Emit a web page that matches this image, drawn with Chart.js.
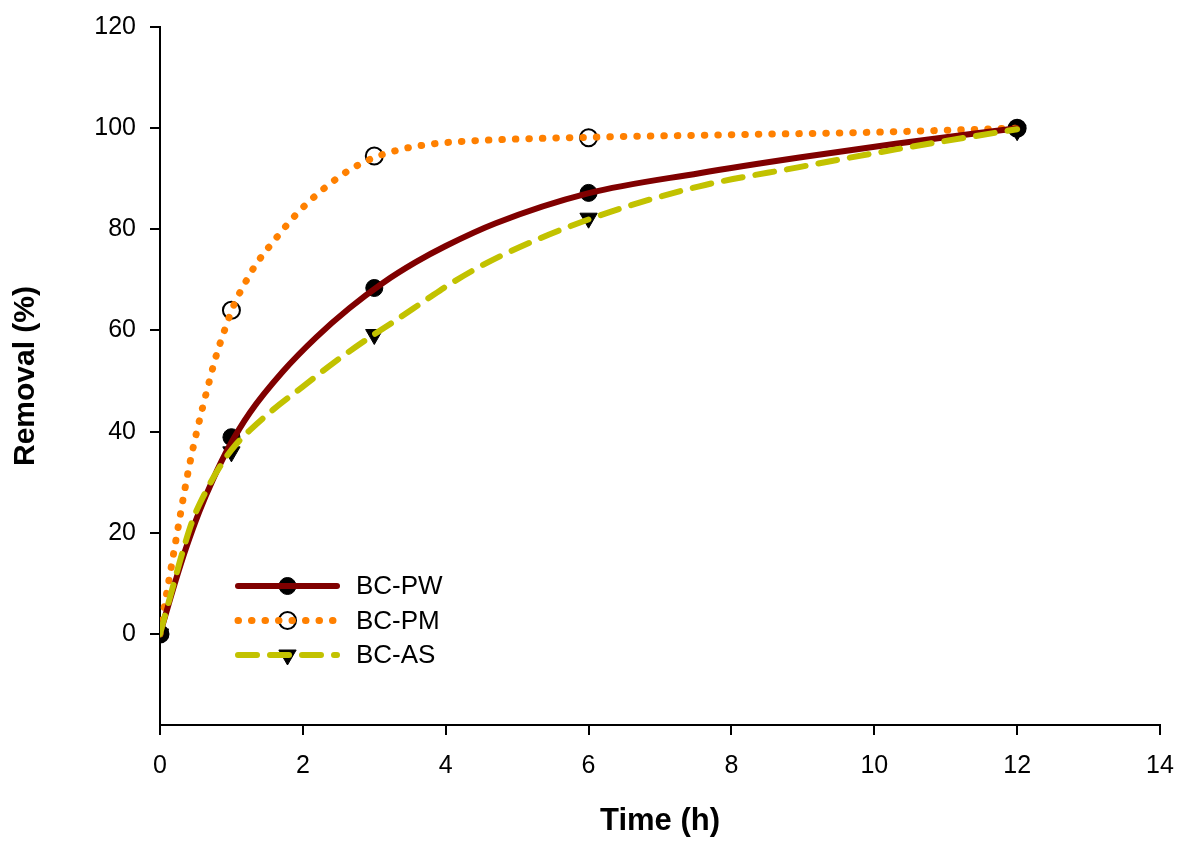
<!DOCTYPE html>
<html>
<head>
<meta charset="utf-8">
<title>Removal vs time</title>
<script src="https://cdn.jsdelivr.net/npm/chart.js@4.4.1/dist/chart.umd.min.js"></script>
<style>
  html, body { margin: 0; padding: 0; background: #ffffff; }
  canvas { display: block; }
</style>
</head>
<body>
<canvas id="removalChart" width="1178" height="844"></canvas>
<script>
// Series names
const seriesNames = ['BC-PW', 'BC-PM', 'BC-AS'];

// Measured removal (%) at each sampling time (h)
const sampleTimes = [0, 1, 3, 6, 12];
const removalPW = [0, 38.9, 68.4, 87.2, 100];
const removalPM = [0, 64.0, 94.5, 98.1, 100];
const removalAS = [0, 36.0, 59.2, 82.2, 99.5];

// Fitted kinetic curves (time h, removal %)
const fitTimePW = [0, 0.22, 0.36, 0.55, 0.74, 0.97, 1.26, 1.72, 2.19, 2.65, 3.12, 3.58, 4.0, 4.7, 5.99, 7.55, 8.95, 10.3, 12];
const fitRemovalPW = [0, 10.6, 16.8, 24.2, 30.5, 37.1, 43.8, 51.9, 58.7, 64.4, 69.4, 73.5, 76.7, 81.2, 87.1, 91.1, 94.2, 96.9, 100];

const fitTimePM = [0, 0.06, 0.13, 0.21, 0.28, 0.34, 0.42, 0.50, 0.59, 0.68, 0.78, 0.90, 1.04, 1.23, 1.34, 1.61, 1.93, 2.29, 2.66, 3.02, 3.4, 3.77, 4.14, 4.7, 6, 8, 10, 12];
const fitRemovalPM = [0, 5.3, 11.0, 17.5, 23.2, 28.0, 33.9, 39.1, 44.4, 49.4, 54.7, 59.9, 65.2, 70.4, 73.0, 78.0, 83.3, 88.0, 91.8, 94.3, 95.9, 96.8, 97.3, 97.7, 98.2, 98.7, 99.2, 100];

const fitTimeAS = [0, 0.18, 0.32, 0.46, 0.65, 0.88, 1.06, 1.26, 1.58, 2.0, 2.42, 2.89, 3.31, 3.73, 4.06, 4.75, 6.01, 7.55, 8.95, 10.3, 12];
const fitRemovalAS = [0, 9.3, 16.4, 22.6, 28.4, 34.0, 37.4, 40.3, 44.3, 48.9, 53.5, 58.2, 62.1, 66.1, 69.2, 74.6, 82.0, 88.5, 92.3, 95.8, 99.8];

// Axis tick values
const xTickValues = [0, 2, 4, 6, 8, 10, 12, 14];
const yTickValues = [0, 20, 40, 60, 80, 100, 120];

const FONT = "'Liberation Sans', Arial, Helvetica, sans-serif";
const pairs = (xs, ys) => xs.map((x, i) => ({ x: x, y: ys[i] }));

const colPW = '#800000';
const colPM = '#ff8000';
const colAS = '#c2c200';

const curveBase = {
  showLine: true,
  pointRadius: 0,
  pointHoverRadius: 0,
  borderWidth: 6,
  borderCapStyle: 'round',
  borderJoinStyle: 'round',
  fill: false,
  cubicInterpolationMode: 'monotone'
};

const datasets = [
  Object.assign({}, curveBase, {
    label: seriesNames[2], data: pairs(fitTimeAS, fitRemovalAS),
    borderColor: colAS, borderDash: [19, 13], order: 0
  }),
  Object.assign({}, curveBase, {
    label: seriesNames[0], data: pairs(fitTimePW, fitRemovalPW),
    borderColor: colPW, borderDash: [], order: 1
  }),
  Object.assign({}, curveBase, {
    label: seriesNames[1], data: pairs(fitTimePM, fitRemovalPM),
    borderColor: colPM, borderDash: [0.5, 13], borderWidth: 7, order: 2
  }),
  {
    label: seriesNames[0] + ' data', data: pairs(sampleTimes, removalPW),
    showLine: false, pointStyle: 'circle', pointRadius: 8.5, pointBorderWidth: 1,
    pointBackgroundColor: '#000', pointBorderColor: '#000', pointRotation: 0, order: 5
  },
  {
    label: seriesNames[1] + ' data', data: pairs(sampleTimes, removalPM),
    showLine: false, pointStyle: 'circle', pointRadius: 8.5, pointBorderWidth: 2,
    pointBackgroundColor: 'rgba(0,0,0,0)', pointBorderColor: '#000', pointRotation: 0, order: 5
  },
  {
    label: seriesNames[2] + ' data', data: pairs(sampleTimes, removalAS),
    showLine: false, pointStyle: 'triangle', pointRadius: 10, pointBorderWidth: 1,
    pointBackgroundColor: '#000', pointBorderColor: '#000', pointRotation: 180, order: 5
  }
];

// Key rows: fitted curve dataset index + marker dataset index
const keyRows = [
  { curve: 1, marker: 3, name: seriesNames[0] },
  { curve: 2, marker: 4, name: seriesNames[1] },
  { curve: 0, marker: 5, name: seriesNames[2] }
];

const seriesKey = {
  id: 'seriesKey',
  afterDatasetsDraw(chart) {
    const { ctx, chartArea } = chart;
    const x0 = chartArea.left + 78;
    const x1 = chartArea.left + 177;
    const xm = (x0 + x1) / 2;
    const textX = chartArea.left + 196;
    const y0 = chartArea.top + 559;
    const gap = 34.5;
    keyRows.forEach((row, i) => {
      const y = y0 + i * gap;
      const cd = chart.data.datasets[row.curve];
      const md = chart.data.datasets[row.marker];
      ctx.save();
      // marker
      ctx.fillStyle = md.pointBackgroundColor;
      ctx.strokeStyle = md.pointBorderColor;
      ctx.lineWidth = md.pointBorderWidth;
      Chart.helpers.drawPoint(ctx, {
        pointStyle: md.pointStyle, radius: md.pointRadius,
        rotation: md.pointRotation, borderWidth: md.pointBorderWidth
      }, xm, y);
      // line sample
      ctx.beginPath();
      ctx.strokeStyle = cd.borderColor;
      ctx.lineWidth = cd.borderWidth;
      ctx.lineCap = 'round';
      ctx.setLineDash(cd.borderDash || []);
      ctx.moveTo(x0, y);
      ctx.lineTo(x1, y);
      ctx.stroke();
      ctx.setLineDash([]);
      // label
      ctx.fillStyle = '#000';
      ctx.font = '26px ' + FONT;
      ctx.textAlign = 'left';
      ctx.textBaseline = 'middle';
      ctx.fillText(row.name, textX, y + 1);
      ctx.restore();
    });
  }
};

Chart.defaults.color = '#000';
Chart.defaults.font.family = FONT;

new Chart(document.getElementById('removalChart'), {
  type: 'scatter',
  data: { datasets: datasets },
  options: {
    responsive: false,
    animation: false,
    devicePixelRatio: 1,
    layout: { padding: { top: 27, right: 18, left: 0, bottom: 0 } },
    plugins: {
      legend: { display: false },
      tooltip: { enabled: false }
    },
    scales: {
      x: {
        type: 'linear',
        min: 0, max: 14,
        afterFit: s => { s.height = 119; s.paddingLeft = 0; s.paddingRight = 0; },
        afterBuildTicks: s => { s.ticks = xTickValues.map(v => ({ value: v })); },
        border: { display: true, color: '#000', width: 2 },
        grid: { display: true, drawOnChartArea: false, drawTicks: true, tickLength: 10, color: '#000', lineWidth: 2 },
        ticks: { font: { size: 25 }, padding: 16, maxRotation: 0, color: '#000' },
        title: { display: true, text: 'Time (h)', font: { size: 31, weight: 'bold' }, padding: { top: 0, bottom: 4 }, color: '#000' }
      },
      y: {
        type: 'linear',
        min: -18, max: 120,
        afterFit: s => { s.width = 160; s.paddingTop = 0; s.paddingBottom = 0; },
        afterBuildTicks: s => { s.ticks = yTickValues.map(v => ({ value: v })); },
        border: { display: true, color: '#000', width: 2 },
        grid: { display: true, drawOnChartArea: false, drawTicks: true, tickLength: 10, color: '#000', lineWidth: 2 },
        ticks: { font: { size: 25 }, padding: 14, color: '#000' },
        title: { display: true, text: 'Removal (%)', font: { size: 30, weight: 'bold' }, padding: { top: 8, bottom: 0 }, color: '#000' }
      }
    }
  },
  plugins: [seriesKey]
});
</script>
</body>
</html>
